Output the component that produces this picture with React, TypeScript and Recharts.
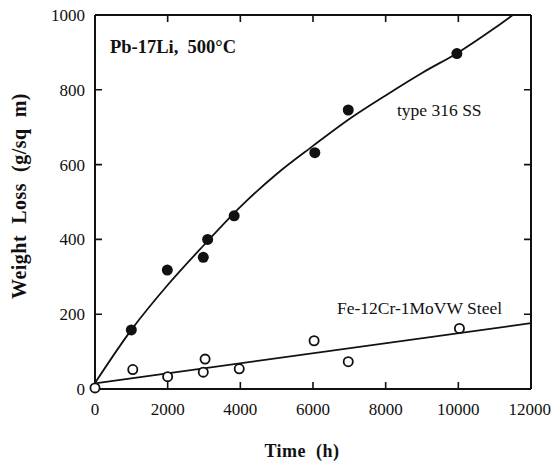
import { ReferenceLine, Scatter, ScatterChart, XAxis, YAxis } from "recharts";

// axis ticks
const hourTicks = [0, 2000, 4000, 6000, 8000, 10000, 12000];
const lossTicks = [0, 200, 400, 600, 800, 1000];

// type 316 SS measurements (filled circles)
const ss316Hours = [1000, 1990, 2980, 3100, 3830, 6050, 6970, 9960];
const ss316Loss = [158, 318, 352, 400, 463, 632, 746, 897];

// Fe-12Cr-1MoVW steel measurements (open circles)
const feCrHours = [0, 1040, 2000, 2980, 3030, 3970, 6030, 6970, 10030];
const feCrLoss = [3, 52, 33, 45, 80, 54, 129, 73, 162];

// fitted curves
const ss316FitHours = [0, 1000, 2000, 3000, 4000, 5000, 6000, 7000, 8000, 9000, 10000, 11000, 11500];
const ss316FitLoss = [16, 158, 278, 385, 487, 575, 650, 722, 785, 845, 900, 965, 1000];
const feCrFitHours = [0, 12000];
const feCrFitLoss = [15, 176];

const pts = (xs: number[], ys: number[]) => xs.map((x, i) => ({ x, y: ys[i] }));

const W = 551;
const H = 462;
const M = { top: 15, right: 20, bottom: 43, left: 0 };
const X_AXIS_H = 30;
const Y_AXIS_W = 95;
const PLOT_W = W - M.left - M.right - Y_AXIS_W;
const PLOT_H = H - M.top - M.bottom - X_AXIS_H;
const TICK = 7;

const FONT = "'Liberation Serif', 'Times New Roman', serif";
const tickStyle = { fontSize: 17, fill: "#111", fontFamily: FONT };
const axisLine = { stroke: "#111", strokeWidth: 2 };

const FilledDot = (p: any) => <circle cx={p.cx} cy={p.cy} r={5.5} fill="#111" />;
const OpenDot = (p: any) => (
  <circle cx={p.cx} cy={p.cy} r={4.6} fill="#fff" stroke="#111" strokeWidth={1.8} />
);
const NoDot = () => <g />;

// a grid line dashed so only a short stub shows at each end = inward ticks on both edges
const stubs = (len: number) => `${TICK} ${len - 2 * TICK} ${TICK} 0`;
const inner = (a: number[]) => a.slice(1, -1);

export default function App() {
  return (
    <div style={{ position: "absolute", left: 0, top: 0, background: "#fff" }}>
      <ScatterChart width={W} height={H} margin={M}>
        <XAxis
          dataKey="x"
          type="number"
          domain={[0, 12000]}
          ticks={hourTicks}
          height={X_AXIS_H}
          tickSize={-6}
          tickMargin={20}
          axisLine={axisLine}
          tickLine={false}
          tick={tickStyle}
        />
        <YAxis
          dataKey="y"
          type="number"
          domain={[0, 1000]}
          ticks={lossTicks}
          width={Y_AXIS_W}
          tickSize={-6}
          tickMargin={16}
          axisLine={axisLine}
          tickLine={false}
          tick={tickStyle}
        />
        {inner(hourTicks).map((h) => (
          <ReferenceLine
            key={`h${h}`}
            x={h}
            stroke="#111"
            strokeWidth={1.6}
            strokeDasharray={stubs(PLOT_H)}
            ifOverflow="visible"
          />
        ))}
        {inner(lossTicks).map((v) => (
          <ReferenceLine
            key={`v${v}`}
            y={v}
            stroke="#111"
            strokeWidth={1.6}
            strokeDasharray={stubs(PLOT_W)}
            ifOverflow="visible"
          />
        ))}
        <ReferenceLine y={1000} stroke="#111" strokeWidth={2} ifOverflow="visible" />
        <ReferenceLine x={12000} stroke="#111" strokeWidth={2} ifOverflow="visible" />
        <Scatter
          data={pts(ss316FitHours, ss316FitLoss)}
          line={{ stroke: "#111", strokeWidth: 1.8 }}
          lineJointType="monotoneX"
          shape={NoDot}
          isAnimationActive={false}
        />
        <Scatter
          data={pts(feCrFitHours, feCrFitLoss)}
          line={{ stroke: "#111", strokeWidth: 1.8 }}
          shape={NoDot}
          isAnimationActive={false}
        />
        <Scatter data={pts(ss316Hours, ss316Loss)} shape={FilledDot} isAnimationActive={false} />
        <Scatter data={pts(feCrHours, feCrLoss)} shape={OpenDot} isAnimationActive={false} />
        <text x={110} y={53} fontFamily={FONT} fontWeight="bold" fontSize={18.5} fill="#111" style={{ whiteSpace: "pre" }}>
          {"Pb-17Li,  500°C"}
        </text>
        <text x={397} y={116} fontFamily={FONT} fontSize={17.5} fill="#111">
          type 316 SS
        </text>
        <text x={337} y={314} fontFamily={FONT} fontSize={17.5} fill="#111">
          Fe-12Cr-1MoVW Steel
        </text>
        <text x={302} y={457} textAnchor="middle" fontFamily={FONT} fontWeight="bold" fontSize={18} letterSpacing={0.5} fill="#111" style={{ whiteSpace: "pre" }}>
          {"Time  (h)"}
        </text>
        <text
          x={0}
          y={0}
          transform="translate(26 196) rotate(-90)"
          textAnchor="middle"
          fontFamily={FONT}
          fontWeight="bold"
          fontSize={20}
          letterSpacing={0.5}
          fill="#111"
          style={{ whiteSpace: "pre" }}
        >
          {"Weight  Loss  (g/sq  m)"}
        </text>
      </ScatterChart>
    </div>
  );
}
